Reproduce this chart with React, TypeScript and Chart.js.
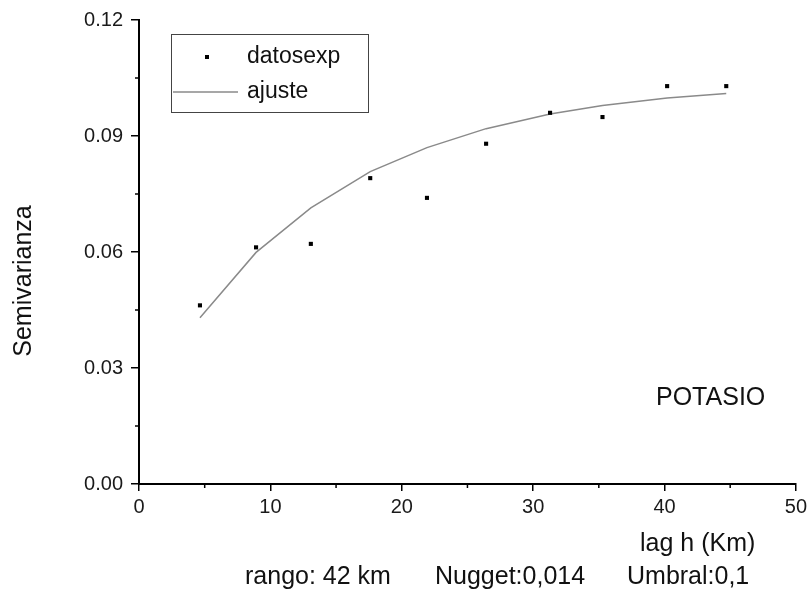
import React, { useEffect, useRef } from "react";
import { Chart, registerables } from "chart.js";

Chart.register(...registerables);

const lagKm = [4.64, 8.91, 13.08, 17.6, 21.92, 26.42, 31.29, 35.28, 40.2, 44.7];
const datosexp = [0.0462, 0.0612, 0.0621, 0.0791, 0.074, 0.088, 0.096, 0.0949, 0.1029, 0.1029];
const ajuste = [0.043, 0.0599, 0.0714, 0.0808, 0.087, 0.0919, 0.0957, 0.0979, 0.0998, 0.101];
const xMinorTicks = [5, 15, 25, 35, 45];
const yMinorTicks = [0.015, 0.045, 0.075, 0.105];
const legendLabels = ["datosexp", "ajuste"];
const yTitle = "Semivarianza";
const xTitle = "lag h (Km)";
const plotLabel = "POTASIO";
const footerTexts = ["rango: 42 km", "Nugget:0,014", "Umbral:0,1"];

const FONT = "'Liberation Sans', Arial, sans-serif";

const decorPlugin = {
  id: "decor",
  afterDraw(chart: any) {
    const ctx = chart.ctx as CanvasRenderingContext2D;
    const xs = chart.scales.x;
    const ys = chart.scales.y;
    const area = chart.chartArea;
    ctx.save();
    // minor ticks
    ctx.strokeStyle = "#000";
    ctx.lineWidth = 1.5;
    xMinorTicks.forEach((v) => {
      const px = xs.getPixelForValue(v);
      ctx.beginPath();
      ctx.moveTo(px, area.bottom);
      ctx.lineTo(px, area.bottom + 4);
      ctx.stroke();
    });
    yMinorTicks.forEach((v) => {
      const py = ys.getPixelForValue(v);
      ctx.beginPath();
      ctx.moveTo(area.left, py);
      ctx.lineTo(area.left - 4, py);
      ctx.stroke();
    });

    // legend box
    const bx = area.left + 32;
    const by = area.top + 14;
    const bw = 197;
    const bh = 78;
    ctx.strokeStyle = "#444";
    ctx.lineWidth = 1;
    ctx.strokeRect(bx + 0.5, by + 0.5, bw, bh);
    ctx.fillStyle = "#000";
    ctx.fillRect(bx + 34, by + 21, 4, 4);
    ctx.strokeStyle = "#8a8a8a";
    ctx.lineWidth = 1.5;
    ctx.beginPath();
    ctx.moveTo(bx + 2, by + 58);
    ctx.lineTo(bx + 67, by + 58);
    ctx.stroke();
    ctx.fillStyle = "#111";
    ctx.font = `23px ${FONT}`;
    ctx.textBaseline = "middle";
    ctx.textAlign = "left";
    ctx.fillText(legendLabels[0], bx + 76, by + 23);
    ctx.fillText(legendLabels[1], bx + 76, by + 58);

    // texts
    ctx.font = `25px ${FONT}`;
    ctx.fillText(plotLabel, 656, 398);
    ctx.fillText(xTitle, 640, 544);
    ctx.fillText(footerTexts[0], 245, 577);
    ctx.fillText(footerTexts[1], 435, 577);
    ctx.fillText(footerTexts[2], 627, 577);

    ctx.save();
    ctx.translate(24, 281);
    ctx.rotate(-Math.PI / 2);
    ctx.textAlign = "center";
    ctx.fillText(yTitle, 0, 0);
    ctx.restore();

    ctx.restore();
  },
};

export default function App() {
  const ref = useRef<HTMLCanvasElement>(null);

  useEffect(() => {
    if (!ref.current) return;
    const chart = new Chart(ref.current, {
      type: "scatter",
      data: {
        datasets: [
          {
            label: legendLabels[0],
            data: lagKm.map((x, i) => ({ x, y: datosexp[i] })),
            pointStyle: "rect",
            pointRadius: 2.9,
            pointBorderWidth: 0,
            backgroundColor: "#000",
            borderColor: "#000",
            showLine: false,
            order: 0,
          },
          {
            label: legendLabels[1],
            data: lagKm.map((x, i) => ({ x, y: ajuste[i] })),
            showLine: true,
            pointRadius: 0,
            borderColor: "#8a8a8a",
            borderWidth: 1.5,
            tension: 0,
            order: 1,
          },
        ],
      },
      options: {
        responsive: false,
        animation: false,
        layout: { padding: { top: 15, right: 13, left: 0, bottom: 0 } },
        plugins: {
          legend: { display: false },
          tooltip: { enabled: false },
        },
        scales: {
          x: {
            type: "linear",
            min: 0,
            max: 50,
            ticks: {
              stepSize: 10,
              color: "#1a1a1a",
              font: { family: FONT, size: 20 },
              padding: 4,
              maxRotation: 0,
            },
            grid: {
              drawOnChartArea: false,
              drawTicks: true,
              tickLength: 7,
              color: "#000",
              lineWidth: 1.5,
            },
            border: { display: true, color: "#000", width: 2 },
            afterFit(scale: any) {
              scale.height = 110;
            },
          },
          y: {
            type: "linear",
            min: 0,
            max: 0.12,
            ticks: {
              stepSize: 0.03,
              color: "#1a1a1a",
              font: { family: FONT, size: 20 },
              padding: 8,
              callback: (v: any) => Number(v).toFixed(2),
            },
            grid: {
              drawOnChartArea: false,
              drawTicks: true,
              tickLength: 8,
              color: "#000",
              lineWidth: 1.5,
            },
            border: { display: true, color: "#000", width: 2 },
            afterFit(scale: any) {
              scale.width = 139;
            },
          },
        },
      },
      plugins: [decorPlugin],
    });
    return () => chart.destroy();
  }, []);

  return (
    <div style={{ position: "fixed", left: 0, top: 0, width: 811, height: 594, background: "#fff" }}>
      <canvas ref={ref} width={811} height={594} style={{ display: "block" }} />
    </div>
  );
}
